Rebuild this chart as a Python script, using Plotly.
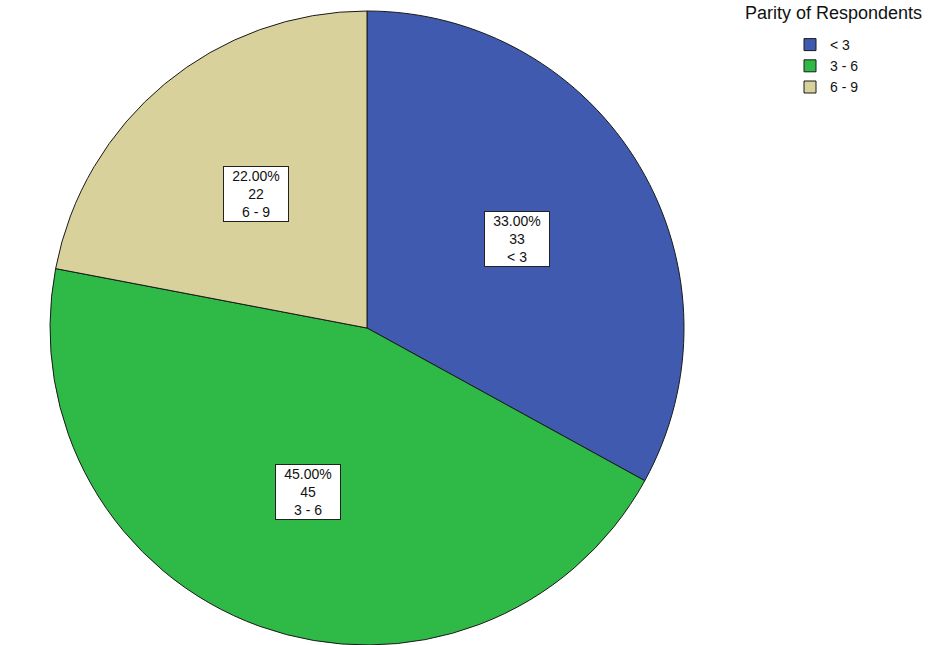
import math
import plotly.graph_objects as go

categories = ["< 3", "3 - 6", "6 - 9"]
counts = [33, 45, 22]
percents = [33.00, 45.00, 22.00]
colors = ["#3F5AAE", "#2FBA48", "#D8D19C"]
legend_title = "Parity of Respondents"

W, H = 933, 645
cx_px, cy_px = 367, 328   # pie centre in pixels from top-left
R = 317

dom_x = [(cx_px - R) / W, (cx_px + R) / W]
dom_y = [(H - cy_px - R) / H, (H - cy_px + R) / H]
dom_y = [max(0, dom_y[0]), min(1, dom_y[1])]

fig = go.Figure()
fig.add_trace(go.Pie(
    labels=categories,
    values=counts,
    sort=False,
    direction="clockwise",
    rotation=0,
    textinfo="none",
    hoverinfo="label+value+percent",
    marker=dict(colors=colors, line=dict(color="#1a1a1a", width=1)),
    domain=dict(x=dom_x, y=dom_y),
))

# labels at mid-angle of each slice, computed from the data
total = sum(counts)
cum = 0
frac = 0.55
for cat, n, p in zip(categories, counts, percents):
    mid = (cum + n / 2) / total * 2 * math.pi
    cum += n
    px = cx_px + frac * R * math.sin(mid)
    py = cy_px - frac * R * math.cos(mid)
    fig.add_annotation(
        x=px / W, y=1 - py / H, xref="paper", yref="paper",
        xanchor="center", yanchor="middle",
        text=f"{p:.2f}%<br>{n}<br>{cat}",
        showarrow=False,
        font=dict(family="Liberation Sans, Arial", size=14, color="#111"),
        bgcolor="white", bordercolor="#222", borderwidth=1, borderpad=1,
        width=62, height=52,
    )

fig.add_annotation(
    x=924 / W, y=1 - 13 / H, xref="paper", yref="paper",
    xanchor="right", yanchor="middle",
    text=legend_title, showarrow=False,
    font=dict(family="Liberation Sans, Arial", size=18, color="#111"),
)

fig.update_layout(
    width=W, height=H,
    margin=dict(l=0, r=0, t=0, b=0),
    paper_bgcolor="white", plot_bgcolor="white",
    showlegend=True,
    legend=dict(
        x=790 / W, y=1 - 29 / H, xanchor="left", yanchor="top",
        font=dict(family="Liberation Sans, Arial", size=14, color="#111"),
        itemwidth=30, tracegroupgap=0, bgcolor="rgba(0,0,0,0)",
    ),
)

fig.write_html("out.html", config={"displayModeBar": False},
               post_script="document.body.style.margin='0';")
